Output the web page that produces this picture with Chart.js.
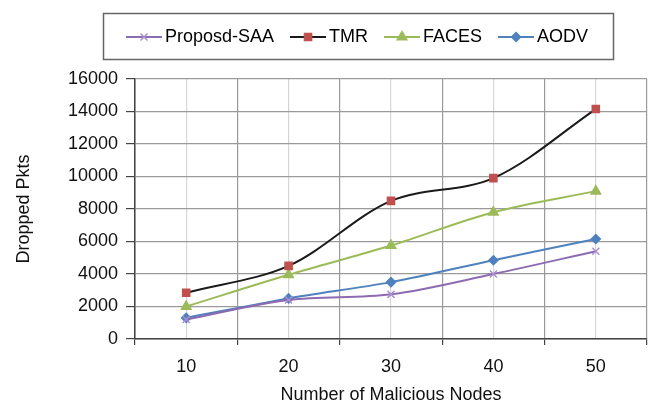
<!DOCTYPE html>
<html>
<head>
<meta charset="utf-8">
<script src="https://cdn.jsdelivr.net/npm/chart.js@4"></script>
<style>
  html, body { margin: 0; padding: 0; background: #fff; }
  #wrap { width: 654px; height: 406px; }
</style>
</head>
<body>
<div id="wrap"><canvas id="chart" width="654" height="406"></canvas></div>
<script>
// ===== DATA =====
const nodes = [10, 20, 30, 40, 50];
const saa = [1200, 2400, 2750, 4000, 5400];
const tmr = [2850, 4500, 8500, 9900, 14150];
const faces = [2000, 3950, 5750, 7800, 9100];
const aodv = [1300, 2500, 3500, 4850, 6150];
const yTicks = { min: 0, max: 16000, step: 2000 };

const FONT = "'Liberation Sans', Arial, sans-serif";
const DARK_GRID = '#9a9a9a';
const LIGHT_GRID = '#d6d6d6';
const AXIS = '#444';

// legend sample: short line with the marker in the middle
function legendSample(lineColor, style, fill, r) {
  const c = document.createElement('canvas');
  c.width = 36; c.height = 14;
  const ctx = c.getContext('2d');
  ctx.strokeStyle = lineColor; ctx.lineWidth = 2;
  ctx.beginPath(); ctx.moveTo(0, 7); ctx.lineTo(36, 7); ctx.stroke();
  ctx.fillStyle = fill; ctx.strokeStyle = fill; ctx.lineWidth = 1.5;
  Chart.helpers.drawPoint(ctx, { pointStyle: style, radius: r, borderWidth: 1.5, rotation: 0 }, 18, 7);
  return c;
}

const series = [
  { label: 'Proposd-SAA', data: saa, line: '#8c6bb1', fill: '#a98fcf', style: 'crossRot', r: 5 },
  { label: 'TMR', data: tmr, line: '#1a1a1a', fill: '#c0504d', style: 'rect', r: 5 },
  { label: 'FACES', data: faces, line: '#9bbb59', fill: '#9bbb59', style: 'triangle', r: 5.5 },
  { label: 'AODV', data: aodv, line: '#4f81bd', fill: '#4f81bd', style: 'rectRot', r: 4.5 }
];

const datasets = series.map(s => ({
  label: s.label,
  data: nodes.map((n, i) => ({ x: n, y: s.data[i] })),
  borderColor: s.line,
  borderWidth: 2,
  backgroundColor: s.fill,
  pointStyle: s.style,
  pointRadius: s.r,
  pointBorderColor: s.fill,
  pointBackgroundColor: s.fill,
  pointBorderWidth: 1.5,
  tension: 0.33,
  fill: false,
  sample: legendSample(s.line, s.style, s.fill, s.r)
}));

// legend: move it up/right inside its frame, then draw the frame
const legendFrame = {
  id: 'legendFrame',
  afterLayout(chart) {
    const lg = chart.legend;
    lg.left += 33; lg.right += 33;
    lg.top -= 23; lg.bottom -= 23;
  },
  afterDraw(chart) {
    const ctx = chart.ctx;
    ctx.save();
    ctx.strokeStyle = '#666';
    ctx.lineWidth = 1.5;
    ctx.strokeRect(103.5, 13.5, 510, 46);
    ctx.restore();
  }
};

Chart.defaults.font.family = FONT;
Chart.defaults.color = '#111';

new Chart(document.getElementById('chart'), {
  type: 'line',
  data: { datasets },
  plugins: [legendFrame],
  options: {
    responsive: false,
    animation: false,
    layout: { padding: { top: 29, left: 0, right: 0, bottom: 0 } },
    plugins: {
      tooltip: { enabled: false },
      legend: {
        position: 'top',
        labels: {
          font: { size: 18, family: FONT },
          color: '#111',
          usePointStyle: true,
          pointStyleWidth: 24,
          padding: 22,
          generateLabels(chart) {
            return chart.data.datasets.map((d, i) => ({
              text: d.label, pointStyle: d.sample, datasetIndex: i,
              fillStyle: d.backgroundColor, strokeStyle: d.borderColor, lineWidth: 0, hidden: false
            }));
          }
        }
      }
    },
    scales: {
      x: {
        type: 'linear',
        min: 5, max: 55,
        afterBuildTicks(scale) {
          const t = [];
          for (let v = 5; v <= 55; v += 5) t.push({ value: v });
          scale.ticks = t;
        },
        afterFit(scale) {
          scale.height = 67;
          scale.paddingLeft = 0; scale.paddingRight = 0;
        },
        ticks: {
          autoSkip: false,
          maxRotation: 0,
          padding: 0,
          font: { size: 18, family: FONT, lineHeight: 2.5 },
          color: '#111',
          callback: v => (nodes.includes(v) ? String(v) : '')
        },
        grid: {
          color: c => (c.tick && nodes.includes(c.tick.value) ? LIGHT_GRID : DARK_GRID),
          tickColor: c => (c.tick && nodes.includes(c.tick.value) ? 'rgba(0,0,0,0)' : AXIS),
          tickLength: 6,
          lineWidth: 1.2
        },
        border: { color: AXIS, width: 1.5 },
        title: {
          display: true,
          text: 'Number of Malicious Nodes',
          font: { size: 18, family: FONT },
          color: '#111',
          padding: { top: 0, bottom: 0 }
        }
      },
      y: {
        min: yTicks.min, max: yTicks.max,
        ticks: {
          stepSize: yTicks.step,
          padding: 8,
          font: { size: 18, family: FONT },
          color: '#111',
          callback: v => String(v)
        },
        afterFit(scale) {
          scale.width = 135;
          scale.paddingTop = 0; scale.paddingBottom = 0;
        },
        grid: { color: DARK_GRID, tickColor: AXIS, tickLength: 9, lineWidth: 1.2 },
        border: { color: AXIS, width: 1.5 },
        title: {
          display: true,
          text: 'Dropped Pkts',
          font: { size: 18, family: FONT },
          color: '#111',
          padding: { top: 13, bottom: 0 }
        }
      }
    }
  }
});
</script>
</body>
</html>
